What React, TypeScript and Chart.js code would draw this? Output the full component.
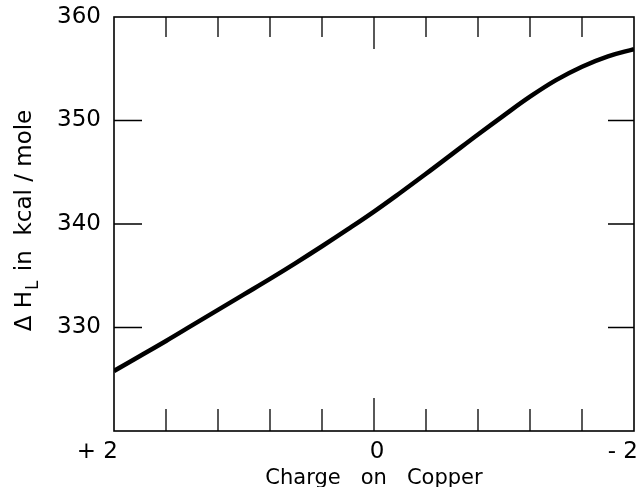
import React, { useEffect, useRef } from "react";
import { Chart, registerables } from "chart.js";

Chart.register(...registerables);

const charges = [2, 1.8, 1.6, 1.4, 1.2, 1.0, 0.8, 0.6, 0.4, 0.2, 0, -0.2, -0.4, -0.6, -0.8, -1.0, -1.2, -1.4, -1.6, -1.8, -2];
const enthalpy = [325.8, 327.25, 328.7, 330.2, 331.7, 333.2, 334.7, 336.25, 337.85, 339.5, 341.2, 343.0, 344.85, 346.75, 348.65, 350.5, 352.3, 353.9, 355.2, 356.2, 356.9];
const xTickValues = [2, 1.6, 1.2, 0.8, 0.4, 0, -0.4, -0.8, -1.2, -1.6, -2];
const xLabelValues = [2, 0, -2];
const xLabelTexts = ["+ 2", "0", "- 2"];
const yTickValues = [330, 340, 350];
const yHidden = [320];
const xTitle = "Charge   on   Copper";
const yTitleMain = "\u0394 H";
const yTitleSub = "L";
const yTitleRest = " in  kcal / mole";

const FONT = "'DejaVu Sans', sans-serif";
const INK = "#000";

const framePlugin = {
  id: "frameTicks",
  afterDatasetsDraw(chart: any) {
    const { ctx, chartArea } = chart;
    const { left, right, top, bottom } = chartArea;
    const xs = chart.scales.x;
    const ys = chart.scales.y;
    ctx.save();
    ctx.strokeStyle = INK;
    ctx.lineWidth = 1.6;
    ctx.strokeRect(left, top, right - left, bottom - top);
    ctx.lineWidth = 1.3;
    ctx.beginPath();
    for (const v of xTickValues) {
      if (v === 2 || v === -2) continue;
      const px = xs.getPixelForValue(v);
      const major = v === 0;
      ctx.moveTo(px, bottom);
      ctx.lineTo(px, bottom - (major ? 33 : 22));
      ctx.moveTo(px, top);
      ctx.lineTo(px, top + (major ? 32 : 20));
    }
    for (const v of yTickValues) {
      const py = ys.getPixelForValue(v);
      ctx.moveTo(left, py);
      ctx.lineTo(left + 28, py);
      ctx.moveTo(right, py);
      ctx.lineTo(right - 26, py);
    }
    ctx.stroke();
    ctx.restore();
  },
  afterDraw(chart: any) {
    const { ctx, chartArea } = chart;
    const xs = chart.scales.x;
    ctx.save();
    ctx.fillStyle = INK;
    // x tick labels: digit aligned under its tick
    ctx.font = `normal 23px ${FONT}`;
    ctx.textBaseline = "middle";
    xLabelValues.forEach((v, i) => {
      const px = xs.getPixelForValue(v);
      if (v === 0) {
        ctx.textAlign = "center";
        ctx.fillText(xLabelTexts[i], px + 3, chartArea.bottom + 21);
      } else {
        ctx.textAlign = "right";
        ctx.fillText(xLabelTexts[i], px + 4, chartArea.bottom + 21);
      }
    });
    ctx.restore();

    // y title with subscript
    const cy = 221;
    const cx = 25;
    ctx.save();
    ctx.fillStyle = INK;
    ctx.translate(cx, cy);
    ctx.rotate(-Math.PI / 2);
    const big = `normal 23px ${FONT}`;
    const small = `normal 17px ${FONT}`;
    ctx.font = big;
    const w1 = ctx.measureText(yTitleMain).width;
    const w3 = ctx.measureText(yTitleRest).width;
    ctx.font = small;
    const w2 = ctx.measureText(yTitleSub).width + 2;
    const total = w1 + w2 + w3;
    let x = -total / 2;
    ctx.textBaseline = "middle";
    ctx.textAlign = "left";
    ctx.font = big;
    ctx.fillText(yTitleMain, x, 0);
    x += w1 + 1;
    ctx.font = small;
    ctx.fillText(yTitleSub, x, 9);
    x += w2;
    ctx.font = big;
    ctx.fillText(yTitleRest, x, 0);
    ctx.restore();
  },
};

export default function App() {
  const ref = useRef<HTMLCanvasElement>(null);
  useEffect(() => {
    if (!ref.current) return;
    const chart = new Chart(ref.current, {
      type: "line",
      data: {
        datasets: [
          {
            data: charges.map((c, i) => ({ x: c, y: enthalpy[i] })),
            borderColor: INK,
            borderWidth: 4.5,
            pointRadius: 0,
            tension: 0.4,
            fill: false,
          },
        ],
      },
      options: {
        animation: false,
        responsive: false,
        maintainAspectRatio: false,
        layout: { padding: { left: 0, right: 6, top: 17, bottom: 0 } },
        plugins: { legend: { display: false }, tooltip: { enabled: false } },
        scales: {
          x: {
            type: "linear",
            reverse: true,
            min: -2,
            max: 2,
            border: { display: false },
            grid: { display: false, drawTicks: false },
            ticks: { display: false },
            title: {
              display: true,
              text: xTitle,
              color: INK,
              padding: { top: 0, bottom: -4 },
              font: { family: FONT, size: 21, weight: "normal" },
            },
            afterFit: (scale: any) => {
              scale.height = 56;
              scale.paddingLeft = 0;
              scale.paddingRight = 0;
            },
          },
          y: {
            type: "linear",
            min: 320,
            max: 360,
            border: { display: false },
            grid: { display: false, drawTicks: false },
            ticks: {
              stepSize: 10,
              padding: 13,
              color: INK,
              font: { family: FONT, size: 23, weight: "normal" },
              callback: (v: any) => (yHidden.includes(v) ? "" : String(v)),
            },
            afterFit: (scale: any) => {
              scale.width = 114;
              scale.paddingTop = 0;
              scale.paddingBottom = 0;
            },
          },
        },
      },
      plugins: [framePlugin],
    });
    return () => chart.destroy();
  }, []);
  return (
    <div style={{ position: "absolute", left: 0, top: 0, width: 640, height: 487, background: "#fff" }}>
      <canvas ref={ref} width={640} height={487} />
    </div>
  );
}
